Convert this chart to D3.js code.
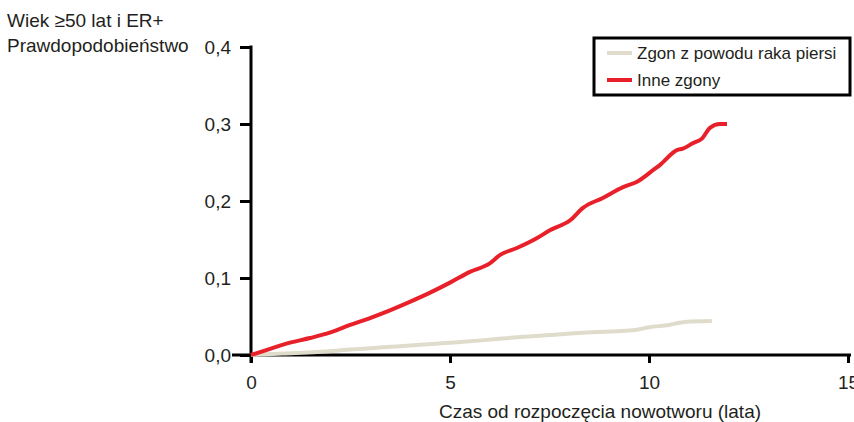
<!DOCTYPE html>
<html>
<head>
<meta charset="utf-8">
<title>Wiek 50+ ER+</title>
<script src="https://d3js.org/d3.v7.min.js"></script>
<style>
*{ margin:0; padding:0; }
body{ background:#fff; }
text{ font-family:"Liberation Sans", Arial, sans-serif; fill:#231f20; }
</style>
</head>
<body>
<script>
// dane
var xTicks = [0, 5, 10, 15];
var yTicks = [0, 0.1, 0.2, 0.3, 0.4];

var breastT = [0, 0.8, 1.66, 2.49, 3.32, 4.17, 5.0, 5.8, 6.68, 7.51, 8.34, 9.19, 9.6, 10.0, 10.5, 10.9, 11.58];
var breastV = [0, 0.002, 0.004, 0.007, 0.010, 0.013, 0.016, 0.019, 0.023, 0.026, 0.029, 0.031, 0.032, 0.036, 0.039, 0.043, 0.044];

var otherT = [0, 0.48, 0.98, 1.48, 1.98, 2.49, 2.99, 3.49, 3.99, 4.5, 5.0, 5.5, 6.0, 6.26, 6.68, 7.19, 7.51, 8.02, 8.34, 8.84, 9.35, 9.7, 10.1, 10.28, 10.7, 10.85, 11.1, 11.33, 11.53, 11.78, 11.96];
var otherV = [0, 0.008, 0.016, 0.022, 0.029, 0.039, 0.048, 0.058, 0.069, 0.081, 0.094, 0.108, 0.119, 0.130, 0.139, 0.152, 0.162, 0.175, 0.191, 0.204, 0.218, 0.225, 0.240, 0.247, 0.266, 0.268, 0.275, 0.281, 0.295, 0.300, 0.300];

var series = [
  {name: "Zgon z powodu raka piersi", color: "#e0dccb", t: breastT, v: breastV},
  {name: "Inne zgony", color: "#e8202a", t: otherT, v: otherV}
];

var width = 854, height = 422;
var svg = d3.select("body").append("svg")
  .attr("width", width).attr("height", height);

var x = d3.scaleLinear().domain([0, 15]).range([251, 848]);
var y = d3.scaleLinear().domain([0, 0.4]).range([355, 47]);

// tytuly
svg.append("text").attr("x", 7).attr("y", 27).style("font-size", "19px").text("Wiek \u226550 lat i ER+");
svg.append("text").attr("x", 7).attr("y", 52).style("font-size", "19px").text("Prawdopodobieństwo");

// os x
var gx = svg.append("g").attr("transform", "translate(0," + y(0) + ")")
  .call(d3.axisBottom(x).tickValues(xTicks).tickSize(8).tickPadding(13).tickFormat(d3.format("d")));
gx.select(".domain").remove();
gx.selectAll("line").attr("stroke", "#000").attr("stroke-width", 3);
gx.selectAll("text").style("font-size", "19px").attr("font-family", null);
svg.append("line").attr("x1", 232).attr("x2", 851).attr("y1", y(0)).attr("y2", y(0))
  .attr("stroke", "#000").attr("stroke-width", 3);

// os y
var gy = svg.append("g").attr("transform", "translate(" + x(0) + ",0)")
  .call(d3.axisLeft(y).tickValues(yTicks).tickSize(11).tickPadding(9)
    .tickFormat(function(d){ return d3.format(".1f")(d).replace(".", ","); }));
gy.select(".domain").remove();
gy.selectAll("line").attr("stroke", "#000").attr("stroke-width", 3);
gy.selectAll("text").style("font-size", "19px").attr("font-family", null);
svg.append("line").attr("x1", x(0)).attr("x2", x(0)).attr("y1", y(0.4) - 1.5).attr("y2", y(0) + 8)
  .attr("stroke", "#000").attr("stroke-width", 3);

svg.append("text").attr("x", 600).attr("y", 418).attr("text-anchor", "middle")
  .style("font-size", "19px").text("Czas od rozpoczęcia nowotworu (lata)");

// linie
var line = d3.line().x(function(d){ return x(d[0]); }).y(function(d){ return y(d[1]); }).curve(d3.curveMonotoneX);
series.forEach(function(s){
  svg.append("path")
    .datum(d3.zip(s.t, s.v))
    .attr("fill", "none")
    .attr("stroke", s.color)
    .attr("stroke-width", 4)
    .attr("stroke-linejoin", "round")
    .attr("d", line);
});

// legenda
var lg = svg.append("g").attr("transform", "translate(594,38)");
lg.append("rect").attr("x", 0).attr("y", 0).attr("width", 256).attr("height", 57)
  .attr("fill", "#fff").attr("stroke", "#000").attr("stroke-width", 3);
series.forEach(function(s, i){
  var yy = 15 + i * 27;
  lg.append("line").attr("x1", 13).attr("x2", 38).attr("y1", yy).attr("y2", yy)
    .attr("stroke", s.color).attr("stroke-width", 4);
  lg.append("text").attr("x", 43).attr("y", yy + 6).style("font-size", "17px").text(s.name);
});
</script>
</body>
</html>
